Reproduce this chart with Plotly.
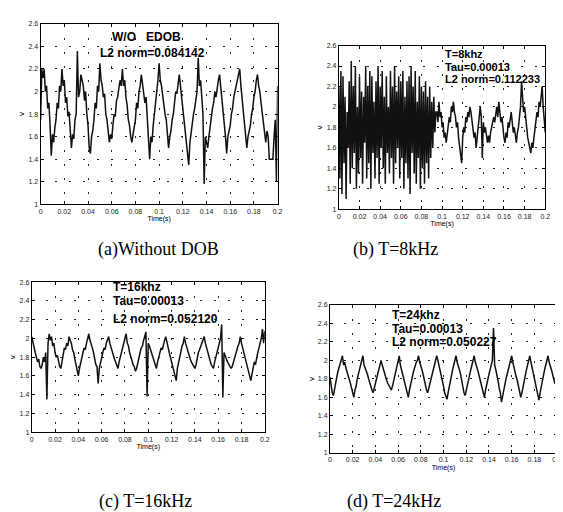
import plotly.graph_objects as go

DT = 0.001  # sample interval (s)

# Panel (a) Without DOB
v_a = [1.75, 2.2, 2.12, 2.2, 2.0, 2.05, 1.85, 1.9, 1.7, 1.43,
       1.62, 1.55, 1.68, 1.75, 1.9, 1.85, 2.05, 2.0, 2.2, 2.05,
       2.1, 1.9, 1.95, 1.78, 1.82, 1.65, 1.5, 1.62, 1.58, 1.75,
       1.8, 2.36, 1.95, 2.0, 2.15, 2.1, 2.05, 1.92, 2.0, 1.8,
       1.7, 1.5, 1.45, 1.6, 1.65, 1.75, 1.9, 1.85, 2.05, 2.0,
       2.25, 2.1, 2.05, 1.95, 1.98, 1.8, 1.75, 1.65, 1.55, 1.62,
       1.58, 1.7, 1.8, 1.78, 1.92, 1.95, 2.02, 2.1, 2.05, 2.2,
       2.05, 2.1, 1.95, 1.88, 1.75, 1.7, 1.6, 1.55, 1.62, 1.7,
       1.75, 1.9, 1.85, 2.0, 2.05, 2.15, 2.08, 2.0, 1.9, 1.95,
       1.75, 1.65, 1.4, 1.6, 1.55, 1.7, 1.8, 1.85, 2.0, 2.1,
       2.25, 2.1, 2.05, 1.95, 1.9, 1.8, 1.75, 1.6, 1.5, 1.6,
       1.65, 1.75, 1.8, 1.9, 2.0, 1.98, 2.1, 2.15, 2.05, 1.95,
       1.88, 1.8, 1.7, 1.6, 1.5, 1.35, 1.55, 1.65, 1.7, 1.8,
       1.85, 1.95, 2.0, 2.3, 2.05, 2.1, 1.95, 1.8, 1.18, 1.6,
       1.55, 1.5, 1.6, 1.7, 1.75, 1.85, 1.9, 2.0, 1.95, 2.05,
       2.1, 2.15, 2.05, 1.95, 1.85, 1.75, 1.6, 1.45, 1.6, 1.65,
       1.7, 1.8, 1.85, 1.95, 2.0, 2.05, 2.1, 2.15, 2.2, 2.05,
       1.95, 1.85, 1.75, 1.6, 1.5, 1.6, 1.65, 1.7, 1.8, 1.85,
       1.95, 2.0, 2.1, 2.15, 2.05, 2.0, 1.9, 1.8, 1.72, 1.62,
       1.55, 1.65, 1.6, 1.4, 1.4, 1.4, 1.4, 1.6, 1.75, 1.2,
       2.05]

# Panel (b) T=8kHz
v_b = [2.2, 1.3, 2.35, 1.15, 2.3, 1.45, 2.1, 1.1, 1.95, 1.6,
       2.25, 1.25, 2.45, 1.4, 2.2, 1.55, 2.4, 1.2, 2.0, 1.35,
       2.3, 1.5, 2.15, 1.25, 2.1, 1.65, 2.4, 1.3, 2.2, 1.45,
       2.35, 1.2, 2.3, 1.55, 2.05, 1.3, 2.25, 1.5, 2.4, 1.25,
       2.2, 1.6, 2.35, 1.4, 2.1, 1.25, 2.3, 1.55, 2.0, 1.35,
       2.35, 1.5, 2.2, 1.25, 2.4, 1.45, 2.15, 1.6, 2.3, 1.3,
       2.25, 1.5, 2.35, 1.2, 2.1, 1.45, 2.25, 1.3, 2.3, 1.15,
       2.4, 1.55, 2.2, 1.35, 2.35, 1.25, 2.05, 1.5, 2.3, 1.2,
       2.2, 1.4, 2.15, 1.25, 2.25, 1.45, 2.1, 1.3, 2.2, 1.5,
       2.05, 1.6, 2.1, 1.75, 1.95, 1.95, 1.85, 2.05, 1.9, 1.95,
       1.8, 1.85, 1.7, 1.75, 1.65, 1.72, 1.8, 1.9, 1.85, 2.0,
       1.95, 2.05, 1.95, 1.9, 1.8, 1.85, 1.7, 1.6, 1.55, 1.45,
       1.7, 1.8, 1.75, 1.9, 1.85, 1.95, 1.9, 2.0, 1.95, 1.85,
       1.8, 1.7, 1.75, 1.6, 1.7, 1.8, 1.85, 2.0, 1.9, 1.5,
       1.85, 1.75, 1.8, 1.7, 1.65, 1.72, 1.65, 1.75, 1.8, 1.85,
       1.9, 1.85, 1.95, 2.0, 1.9, 2.05, 1.95, 1.85, 1.9, 1.75,
       1.7, 1.65, 1.75, 1.7, 1.85, 1.8, 1.9, 1.95, 1.85, 1.75,
       1.8, 1.7, 1.65, 1.75, 1.8, 1.9, 2.0, 2.25, 2.05, 1.95,
       2.0, 1.85, 1.8, 1.7, 1.65, 1.6, 1.55, 1.65, 1.6, 1.7,
       1.8, 1.85, 1.95, 1.9, 2.05, 2.0, 2.1, 2.2, 2.0, 1.85,
       1.75]

# Panel (c) T=16kHz
v_c = [2.02, 1.95, 1.9, 1.85, 1.8, 1.75, 1.78, 1.7, 1.68, 1.72,
       1.8, 1.75, 1.85, 1.35, 1.95, 2.05, 1.98, 2.02, 1.92, 1.95,
       1.85, 1.8, 1.82, 1.75, 1.7, 1.68, 1.75, 1.82, 1.9, 1.88,
       1.95, 1.92, 2.02, 1.98, 1.95, 1.88, 1.85, 1.78, 1.72, 1.65,
       1.6, 1.68, 1.75, 1.8, 1.85, 1.9, 1.88, 1.95, 2.0, 2.05,
       1.98, 1.95, 1.9, 1.85, 1.78, 1.72, 1.7, 1.52, 1.68, 1.75,
       1.8, 1.85, 1.9, 1.88, 1.95, 1.98, 2.02, 1.95, 1.9, 1.88,
       1.82, 1.78, 1.75, 1.72, 1.68, 1.75, 1.8, 1.85, 1.9, 1.92,
       1.98, 2.05, 1.95, 1.92, 1.85, 1.8, 1.78, 1.72, 1.7, 1.65,
       1.68, 1.75, 1.8, 1.85, 1.9, 1.92, 1.98, 2.02, 2.07, 1.38,
       1.95, 1.92, 1.88, 1.82, 1.78, 1.75, 1.72, 1.68, 1.75, 1.8,
       1.85, 1.9, 1.88, 1.95, 1.98, 2.02, 1.95, 1.9, 1.85, 1.8,
       1.75, 1.72, 1.65, 1.6, 1.55, 1.68, 1.75, 1.8, 1.88, 1.92,
       1.95, 2.02, 1.95, 1.9, 1.85, 1.82, 1.78, 1.75, 1.72, 1.7,
       1.68, 1.72, 1.8, 1.85, 1.88, 1.92, 1.95, 1.98, 2.02, 1.95,
       1.9, 1.85, 1.8, 1.75, 1.72, 1.7, 1.68, 1.75, 1.8, 1.85,
       1.9, 1.95, 2.0, 2.15, 1.37, 1.85, 1.8, 1.78, 1.75, 1.72,
       1.7, 1.68, 1.7, 1.75, 1.8, 1.85, 1.9, 1.92, 1.95, 2.02,
       1.95, 1.9, 1.85, 1.8, 1.75, 1.72, 1.68, 1.6, 1.55, 1.62,
       1.7, 1.75, 1.72, 1.8, 1.85, 1.9, 1.95, 2.0, 2.1, 1.95,
       2.08]

# Panel (d) T=24kHz
v_d = [1.82, 1.72, 1.65, 1.62, 1.7, 1.78, 1.82, 1.88, 1.92, 1.95,
       2.0, 2.05, 1.95, 1.98, 1.92, 1.88, 1.85, 1.8, 1.75, 1.7,
       1.65, 1.6, 1.68, 1.72, 1.8, 1.85, 1.9, 1.95, 1.98, 2.05,
       1.95, 1.92, 1.88, 1.85, 1.8, 1.75, 1.72, 1.68, 1.65, 1.7,
       1.75, 1.8, 1.85, 1.9, 1.95, 2.0, 1.95, 1.9, 1.88, 1.82,
       1.78, 1.75, 1.72, 1.7, 1.68, 1.72, 1.78, 1.82, 1.88, 1.92,
       1.98, 2.05, 1.95, 1.9, 1.85, 1.8, 1.75, 1.7, 1.65, 1.6,
       1.68, 1.75, 1.8, 1.85, 1.9, 1.95, 1.98, 2.0, 2.05, 1.98,
       1.95, 1.9, 1.85, 1.78, 1.72, 1.68, 1.65, 1.7, 1.75, 1.8,
       1.85, 1.9, 1.92, 1.98, 2.05, 2.0, 1.95, 1.9, 1.85, 1.8,
       1.72, 1.65, 1.6, 1.58, 1.65, 1.72, 1.8, 1.85, 1.9, 1.95,
       2.0, 2.05, 1.98, 1.95, 1.9, 1.85, 1.78, 1.72, 1.65, 1.62,
       1.68, 1.75, 1.8, 1.85, 1.9, 1.95, 2.0, 2.05, 1.98, 1.95,
       1.9, 1.85, 1.8, 1.75, 1.7, 1.62, 1.6, 1.68, 1.75, 1.8,
       1.85, 1.9, 1.95, 2.0, 2.35, 1.95, 1.9, 1.85, 1.78, 1.7,
       1.65, 1.55, 1.62, 1.7, 1.75, 1.8, 1.85, 1.9, 1.95, 2.0,
       2.05, 1.98, 1.92, 1.88, 1.82, 1.78, 1.72, 1.65, 1.6, 1.65,
       1.72, 1.78, 1.85, 1.9, 1.95, 2.0, 2.05, 1.98, 1.92, 1.88,
       1.82, 1.75, 1.7, 1.62, 1.57, 1.65, 1.72, 1.78, 1.85, 1.9,
       1.95, 2.0, 2.05, 1.98, 1.95, 1.9, 1.85, 1.8, 1.75, 1.78,
       1.75]

series = [v_a, v_b, v_c, v_d]

notes = [
    ["W/O   EDOB", "L2 norm=0.084142"],
    ["T=8khz", "Tau=0.00013", "L2 norm=0.112233"],
    ["T=16khz", "Tau=0.00013", "L2 norm=0.052120"],
    ["T=24khz", "Tau=0.00013", "L2 norm=0.050227"],
]
captions = ["(a)Without DOB", "(b) T=8kHz", "(c) T=16kHz", "(d) T=24kHz"]

W, H = 563, 512
# plot area boxes in pixels: left, right, top, bottom
boxes = [(31, 271, 12, 195), (333, 542, 34, 200), (22, 258, 274, 426), (324, 554, 297, 447)]

fig = go.Figure()
layout = dict(width=W, height=H, margin=dict(l=0, r=0, t=0, b=0),
              paper_bgcolor="white", plot_bgcolor="white", showlegend=False,
              font=dict(family="Liberation Sans, Arial", color="black"))
annotations = []

for k, v in enumerate(series):
    t = [round(i * DT, 4) for i in range(len(v))]
    sfx = "" if k == 0 else str(k + 1)
    fig.add_trace(go.Scatter(x=t, y=v, mode="lines", xaxis="x" + sfx, yaxis="y" + sfx,
                             line=dict(color="#111111", width=1.5)))
    l, r, tp, b = boxes[k]
    axcommon = dict(showline=True, linecolor="black", linewidth=1, mirror="ticks",
                    ticks="inside", ticklen=3, tickcolor="black",
                    showgrid=True, gridcolor="#222222", gridwidth=1, griddash="2px,12px",
                    zeroline=False, tickfont=dict(size=7, color="#222222"))
    layout["xaxis" + sfx] = dict(domain=[l / W, r / W], range=[0, 0.2], dtick=0.02,
                                 anchor="y" + sfx,
                                 title=dict(text="Time(s)", font=dict(size=7), standoff=2),
                                 **axcommon)
    layout["yaxis" + sfx] = dict(domain=[1 - b / H, 1 - tp / H], range=[1, 2.6], dtick=0.2,
                                 anchor="x" + sfx,
                                 title=dict(text="v", font=dict(size=8), standoff=2),
                                 **axcommon)
    xr = "x" + sfx
    yr = "y" + sfx
    if k == 0:
        annotations.append(dict(x=0.089, y=2.486, xref=xr, yref=yr, text="<b>" + notes[0][0] + "</b>",
                                showarrow=False, xanchor="center", font=dict(size=12)))
        annotations.append(dict(x=0.0946, y=2.338, xref=xr, yref=yr, text="<b>" + notes[0][1] + "</b>",
                                showarrow=False, xanchor="center", font=dict(size=12)))
    else:
        spots = {1: (0.1005, [2.518, 2.388, 2.272], 11),
                 2: (0.0678, [2.547, 2.395, 2.205], 12),
                 3: (0.053, [2.488, 2.339, 2.195], 12)}
        x0, ys, fs = spots[k]
        for txt, yy in zip(notes[k], ys):
            annotations.append(dict(x=x0, y=yy, xref=xr, yref=yr, text="<b>" + txt + "</b>",
                                    showarrow=False, xanchor="left", font=dict(size=fs)))

cap_pos = [(150, 241), (390, 241), (137, 496), (389, 496)]
for txt, (cx, cy) in zip(captions, cap_pos):
    annotations.append(dict(x=cx / W, y=1 - cy / H, xref="paper", yref="paper", text=txt,
                            showarrow=False, xanchor="center", yanchor="middle",
                            font=dict(family="Liberation Serif, Times New Roman", size=18, color="black")))

layout["annotations"] = annotations
fig.update_layout(**layout)
fig.write_html("out.html")
